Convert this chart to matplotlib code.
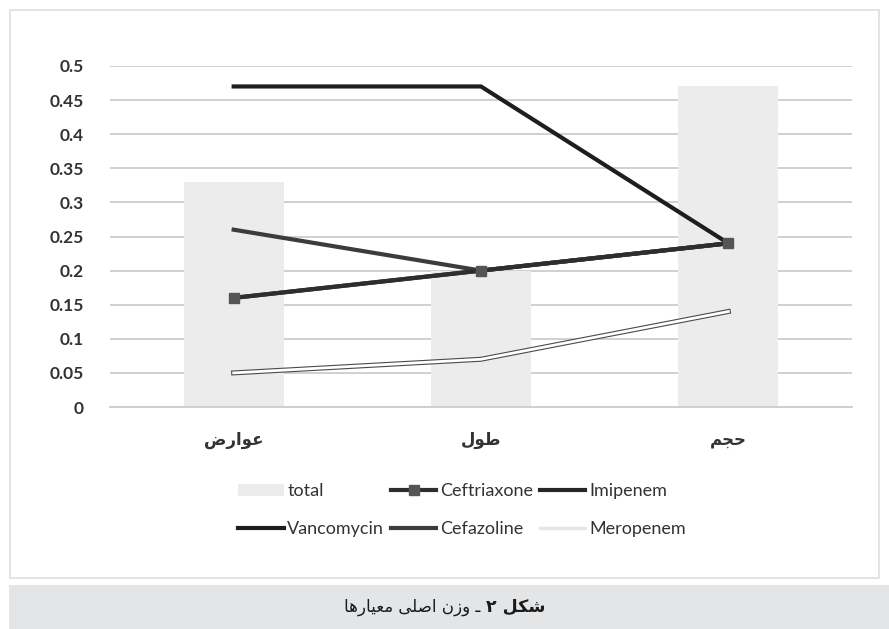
import matplotlib
matplotlib.use("Agg")
import matplotlib.pyplot as plt
import matplotlib.patheffects as pe
from matplotlib.patches import Rectangle
from matplotlib.lines import Line2D
import numpy as np

# Categories (pre-shaped Arabic presentation forms, visual order)
categories = ["\uFEBD\uFEAD\uFE8D\uFEEE\uFECB",   # عوارض
              "\uFEDD\uFEEE\uFEC3",               # طول
              "\uFEE2\uFEA0\uFEA3"]               # حجم
total = [0.33, 0.20, 0.47]
ceftriaxone = [0.16, 0.20, 0.24]
imipenem = [0.16, 0.20, 0.24]
vancomycin = [0.47, 0.47, 0.24]
cefazoline = [0.26, 0.20, 0.24]
meropenem = [0.05, 0.07, 0.14]
yticks = [0, 0.05, 0.1, 0.15, 0.2, 0.25, 0.3, 0.35, 0.4, 0.45, 0.5]
ytick_labels = ["0", "0.05", "0.1", "0.15", "0.2", "0.25", "0.3", "0.35", "0.4", "0.45", "0.5"]
caption_bold = "\u06F2 \uFEDE\uFEDC\uFEB7"            # شکل ۲
caption_rest = ("\uFE8E\uFEEB\uFEAD\uFE8E\uFEF4\uFECC\uFEE3 "   # معیارها
                "\uFEF0\uFEE0\uFEBB\uFE8D "                      # اصلی
                "\uFEE5\uFEAF\uFEED \u0640 ")                    # وزن ـ

W, H = 889, 629
fig = plt.figure(figsize=(W / 100, H / 100), dpi=100)
fig.patch.set_facecolor("white")

# outer frame and caption band
fig.patches.append(Rectangle((10 / W, 1 - 578 / H), 869 / W, 568 / H, transform=fig.transFigure,
                             facecolor="none", edgecolor="#dedede", linewidth=1.2, zorder=0))
fig.patches.append(Rectangle((9 / W, 0), 880 / W, 44 / H, transform=fig.transFigure,
                             facecolor="#e4e5e7", edgecolor="none", zorder=0))

ax = fig.add_axes([110 / W, 1 - 407 / H, 742 / W, 341 / H])
ax.set_facecolor("none")
x = np.arange(len(categories))

ax.bar(x, total, width=0.405, color="#ececed", label="total", zorder=1)
ax.plot(x, imipenem, color="#262626", linewidth=3, label="Imipenem", zorder=3)
ax.plot(x, cefazoline, color="#3c3c3c", linewidth=3, label="Cefazoline", zorder=3)
ax.plot(x, vancomycin, color="#1e1e1e", linewidth=3, label="Vancomycin", zorder=4)
ax.plot(x, ceftriaxone, color="#2e2e2e", linewidth=3, marker="s", markersize=7,
        markerfacecolor="#555555", markeredgecolor="#555555", label="Ceftriaxone", zorder=5)
ax.plot(x, meropenem, color="white", linewidth=2,
        path_effects=[pe.Stroke(linewidth=3.6, foreground="#4a4a4a"), pe.Normal()],
        label="Meropenem", zorder=4)

ax.set_xlim(-0.5, 2.5)
ax.set_ylim(0, 0.5)
ax.set_yticks(yticks)
ax.set_yticklabels(ytick_labels, fontsize=12.5, fontweight="bold", color="#333333",
                   family=["Lato", "DejaVu Sans"])
ax.set_xticks(x)
ax.set_xticklabels(categories, fontsize=12, fontweight="bold", color="#333333",
                   family=["DejaVu Sans"])
ax.tick_params(axis="both", length=0)
ax.tick_params(axis="y", pad=19)
ax.tick_params(axis="x", pad=17)
ax.grid(axis="y", color="#d0d0d0", linewidth=1.4, zorder=0)
ax.set_axisbelow(True)
for s in ["top", "right", "left"]:
    ax.spines[s].set_visible(False)
ax.spines["bottom"].set_color("#cfcfcf")
ax.spines["bottom"].set_linewidth(1.4)

handles, labels = ax.get_legend_handles_labels()
hmap = dict(zip(labels, handles))
hmap["Meropenem"] = Line2D([], [], color="#e6e6e6", linewidth=2.5)
# column-major fill so rows read: total, Ceftriaxone, Imipenem / Vancomycin, Cefazoline, Meropenem
order = ["total", "Vancomycin", "Ceftriaxone", "Cefazoline", "Imipenem", "Meropenem"]
leg = fig.legend([hmap[k] for k in order], order, ncol=3, frameon=False,
                 loc="center", bbox_to_anchor=(462 / W, 1 - 510 / H),
                 prop={"family": ["Lato", "DejaVu Sans"], "size": 13},
                 handlelength=2.5, handletextpad=0.2, columnspacing=0.4,
                 labelspacing=1.2, labelcolor="#333333")

# caption
tb = fig.text(540 / W, 1 - 607 / H, caption_bold, ha="right", va="center",
              fontsize=12.5, fontweight="bold", family=["DejaVu Sans"], color="#1a1a1a")
ta = fig.text(0, 0, caption_rest, fontsize=12, family=["DejaVu Sans"], color="#1a1a1a")
fig.canvas.draw()
r = fig.canvas.get_renderer()
wb = tb.get_window_extent(r).width
wa = ta.get_window_extent(r).width
total_w = wb + wa
left = (W / 2 - total_w / 2)
tb.set_position(((left + total_w) / W, 1 - 607 / H))
ta.set_position(((left + wa) / W, 1 - 607 / H))
ta.set_ha("right")
ta.set_va("center")

fig.savefig("out.png", dpi=100, facecolor="white")
